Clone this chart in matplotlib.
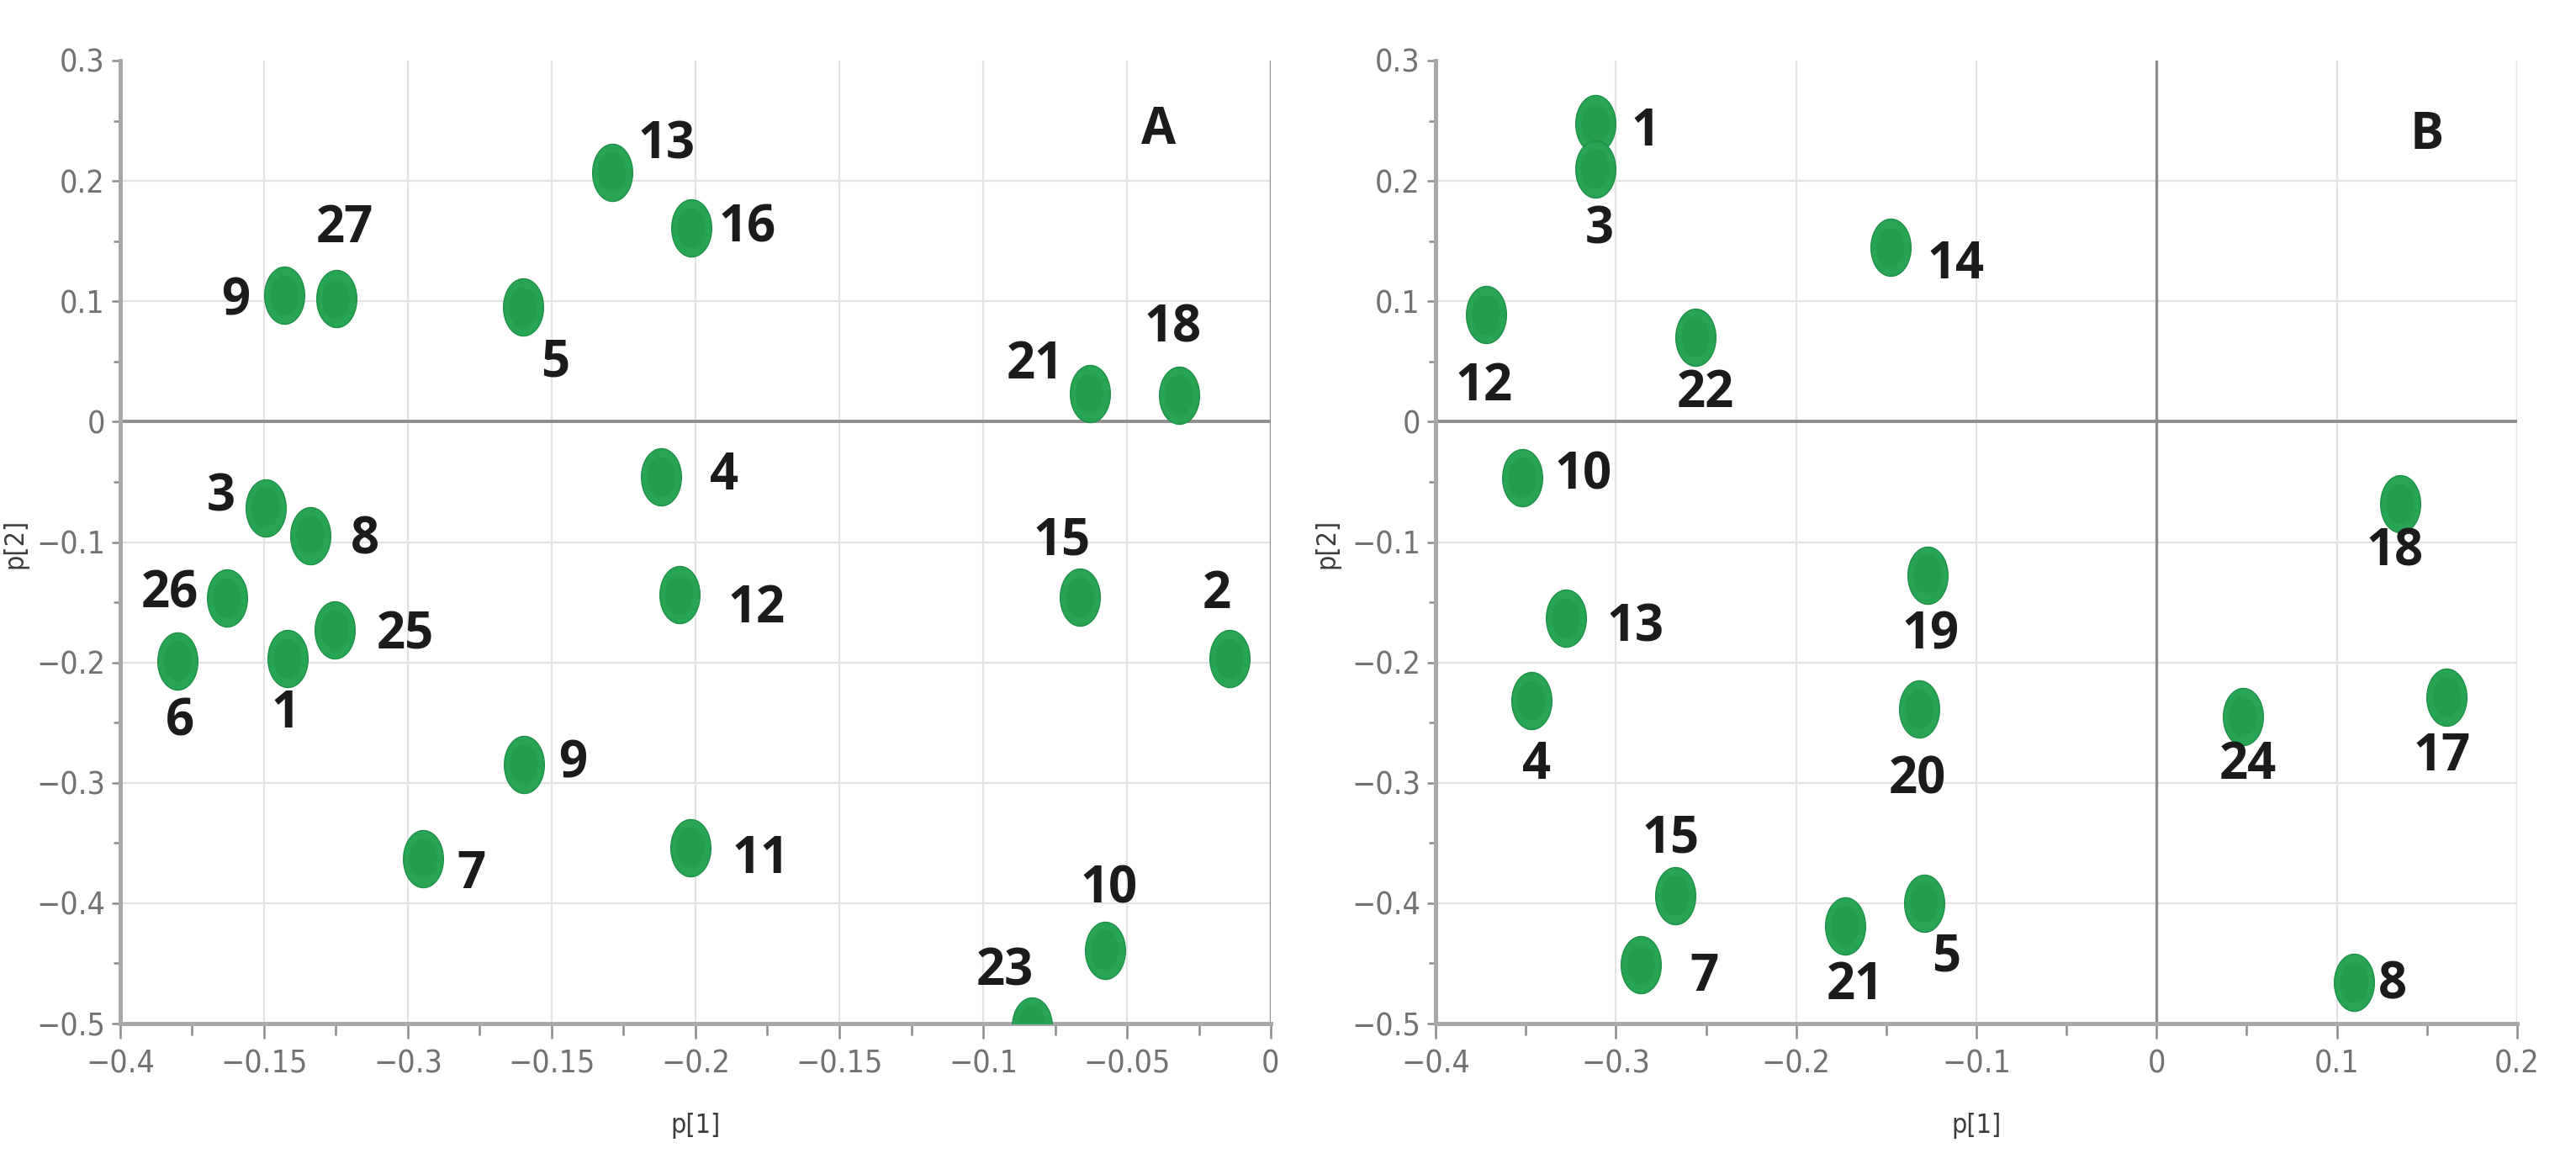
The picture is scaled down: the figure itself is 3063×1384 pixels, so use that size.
import numpy as np
import matplotlib
matplotlib.use("Agg")
import matplotlib.pyplot as plt
from matplotlib.path import Path
from matplotlib import font_manager as fm
from matplotlib.ticker import FixedLocator, MultipleLocator

# ---------------- data ----------------
# Panel A
a_labels = ["13", "16", "9", "27", "5", "21", "18", "4", "3", "8", "26", "25",
            "6", "1", "12", "15", "2", "9", "7", "11", "10", "23"]
a_x = [-0.229, -0.2015, -0.343, -0.325, -0.260, -0.063, -0.032, -0.212, -0.3495,
       -0.334, -0.363, -0.3253, -0.380, -0.3418, -0.2056, -0.0663, -0.0143,
       -0.2597, -0.2946, -0.2018, -0.0577, -0.0829]
a_y = [0.207, 0.161, 0.105, 0.102, 0.095, 0.023, 0.022, -0.0456, -0.0716,
       -0.0946, -0.1466, -0.173, -0.199, -0.197, -0.1436, -0.146, -0.197,
       -0.2845, -0.363, -0.3537, -0.439, -0.502]

# Panel B
b_labels = ["1", "3", "14", "12", "22", "10", "18", "19", "13", "4", "20", "24",
            "17", "15", "5", "21", "7", "8"]
b_x = [-0.3115, -0.3115, -0.1477, -0.372, -0.2558, -0.352, 0.135, -0.127,
       -0.3277, -0.347, -0.1315, 0.048, 0.161, -0.267, -0.129, -0.1727, -0.286,
       0.1096]
b_y = [0.2476, 0.210, 0.1448, 0.0888, 0.0698, -0.0463, -0.0682, -0.1274,
       -0.1635, -0.232, -0.2389, -0.245, -0.2287, -0.3936, -0.400, -0.419,
       -0.451, -0.466]

# tick labels (as printed on the original)
a_xticks = [-0.4, -0.35, -0.3, -0.25, -0.2, -0.15, -0.1, -0.05, 0.0]
a_xticklabels = ["\u22120.4", "\u22120.15", "\u22120.3", "\u22120.15", "\u22120.2",
                 "\u22120.15", "\u22120.1", "\u22120.05", "0"]
b_xticks = [-0.4, -0.3, -0.2, -0.1, 0.0, 0.1, 0.2]
b_xticklabels = ["\u22120.4", "\u22120.3", "\u22120.2", "\u22120.1", "0", "0.1", "0.2"]
yticks = [0.3, 0.2, 0.1, 0.0, -0.1, -0.2, -0.3, -0.4, -0.5]
yticklabels = ["0.3", "0.2", "0.1", "0", "\u22120.1", "\u22120.2", "\u22120.3",
               "\u22120.4", "\u22120.5"]

# ---------------- style: label offsets (pixels) ----------------
a_offsets = [(65, 32), (67, -1), (-58, -8), (10, 83), (38, -67), (-65, 34),
             (-7, 79), (75, 0), (-53, 12), (65, -6), (-68, 4), (83, -7),
             (3, -73), (-3, -66), (92, -18), (-22, 66), (-15, 76), (58, 0),
             (57, -20), (84, -15), (5, 72), (-33, 64)]
b_offsets = [(60, -11), (5, -73), (78, -21), (-2, -86), (12, -67), (73, 2),
             (-6, -58), (3, -72), (83, -12), (6, -77), (-3, -85), (6, -58),
             (-6, -72), (-6, 67), (26, -65), (12, -71), (75, -16), (46, -4)]


def has_font(name):
    return any(f.name == name for f in fm.fontManager.ttflist)


if has_font("Liberation Sans Narrow"):
    narrow = dict(family="Liberation Sans Narrow")
else:
    narrow = dict(family="DejaVu Sans", stretch="condensed")
bold_font = "Open Sans" if has_font("Open Sans") else "DejaVu Sans"

W, H = 3063, 1384
DPI = 100
fig = plt.figure(figsize=(W / DPI, H / DPI), dpi=DPI, facecolor="white")

# ellipse marker (taller than wide)
t = np.linspace(0, 2 * np.pi, 80)
ell = Path(np.column_stack([0.70 * np.cos(t), np.sin(t)]), closed=True)

GRID = "#e3e3e3"
SPINE = "#a8a8a8"
ZERO = "#8e8e8e"
TICKC = "#8a8a8a"
DOT = "#27a554"
DOT_EDGE = "#1f9049"
DOT_CORE = "#1f8f47"


def make_panel(rect, xs, ys, labels, offsets, xlim, xticks, xticklabels,
               xminor, letter, letter_pos, yl_x):
    ax = fig.add_axes(rect)
    ax.set_xlim(*xlim)
    ax.set_ylim(-0.5, 0.3)
    ax.set_facecolor("white")

    # grid (interior only)
    for xv in xticks:
        if xlim[0] < xv <= xlim[1] and abs(xv) > 1e-9:
            ax.axvline(xv, color=GRID, lw=1.6, zorder=0)
    for yv in yticks:
        if -0.5 < yv < 0.3 and abs(yv) > 1e-9:
            ax.axhline(yv, color=GRID, lw=1.6, zorder=0)
    ax.axhline(0, color=ZERO, lw=2.8, zorder=1)
    ax.axvline(0, color=ZERO, lw=2.4, zorder=1)

    for s in ["top", "right"]:
        ax.spines[s].set_visible(False)
    for s in ["left", "bottom"]:
        ax.spines[s].set_color(SPINE)
        ax.spines[s].set_linewidth(3.6)
        ax.spines[s].set_zorder(3)

    ax.xaxis.set_major_locator(FixedLocator(xticks))
    ax.set_xticklabels(xticklabels)
    ax.xaxis.set_minor_locator(MultipleLocator(xminor))
    ax.yaxis.set_major_locator(FixedLocator(yticks))
    ax.set_yticklabels(yticklabels)
    ax.yaxis.set_minor_locator(MultipleLocator(0.05))

    ax.tick_params(axis="x", which="major", direction="out", length=13, width=1.8,
                   color=TICKC, pad=9, labelsize=27, labelcolor="#727272")
    ax.tick_params(axis="x", which="minor", direction="out", length=10, width=1.8,
                   color=TICKC)
    ax.tick_params(axis="y", which="major", direction="out", length=7, width=1.8,
                   color=TICKC, pad=6, labelsize=27, labelcolor="#727272")
    ax.tick_params(axis="y", which="minor", direction="out", length=6, width=1.8,
                   color=TICKC)
    for lab in ax.get_xticklabels() + ax.get_yticklabels():
        lab.set_fontfamily(narrow["family"])
        if "stretch" in narrow:
            lab.set_fontstretch(narrow["stretch"])

    ax.scatter(xs, ys, s=49 ** 2, marker=ell, facecolor=DOT, edgecolor=DOT_EDGE,
               linewidth=1.0, zorder=4, clip_on=True)
    ax.scatter(xs, ys, s=34 ** 2, marker=ell, facecolor=DOT_CORE, edgecolor="none",
               alpha=0.35, zorder=4, clip_on=True)

    for x, y, lab, (dx, dy) in zip(xs, ys, labels, offsets):
        ax.annotate(lab, (x, y), xytext=(dx, dy), textcoords="offset pixels",
                    ha="center", va="center", fontsize=43, fontweight="bold",
                    family=bold_font, color="#1b1b1b", zorder=5,
                    annotation_clip=False)

    ax.text(letter_pos[0], letter_pos[1], letter, transform=ax.transAxes,
            ha="center", va="center", fontsize=43, fontweight="bold",
            family=bold_font, color="#1b1b1b")

    lab_kw = dict(fontsize=23, color="#3c3c3c", **narrow)
    ax.set_xlabel("p[1]", **lab_kw)
    ax.xaxis.set_label_coords(0.5, -0.093)
    ax.set_ylabel("p[2]", **lab_kw)
    ax.yaxis.set_label_coords(yl_x, 0.498)
    return ax


rectA = [143 / W, 1 - 1217 / H, (1511 - 143) / W, (1217 - 72) / H]
rectB = [1707 / W, 1 - 1217 / H, (2993 - 1707) / W, (1217 - 72) / H]

axA = make_panel(rectA, a_x, a_y, a_labels, a_offsets, (-0.4, 0.0), a_xticks,
                 a_xticklabels, 0.025, "A", (0.9025, 0.9275), -0.080)
axB = make_panel(rectB, b_x, b_y, b_labels, b_offsets, (-0.4, 0.2), b_xticks,
                 b_xticklabels, 0.05, "B", (0.9167, 0.922), -0.0886)
axB.axvline(0.2, color=GRID, lw=1.6, zorder=0)

fig.savefig("out.png", dpi=DPI, facecolor="white")
